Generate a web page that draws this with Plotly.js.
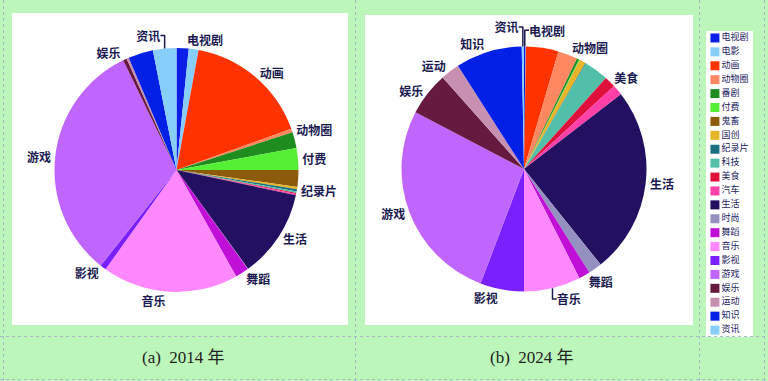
<!DOCTYPE html>
<html><head><meta charset="utf-8">
<script src="https://cdn.plot.ly/plotly-3.0.1.min.js"></script>
<style>html,body{margin:0;padding:0;background:#bcf6ba;}</style>
</head><body><div id="chart" style="width:768px;height:381px;"></div>
<script>
const categories = ['电视剧','电影','动画','动物圈','番剧','付费','鬼畜','国创','纪录片','科技','美食','汽车','生活','时尚','舞蹈','音乐','影视','游戏','娱乐','运动','知识','资讯'];
const values2014 = [1.6,1.3,16.6,0.5,2.1,2.9,2.2,0.3,0.3,0.2,0.15,0.15,11.7,0.05,1.8,18.0,0.8,32.1,0.5,0.3,3.3,3.1];
const values2024 = [0.2,0.05,4.3,2.6,0.3,0.1,0.05,0.8,0.1,3.2,1.5,1.4,24.8,1.8,1.5,7.5,5.8,27.0,5.8,2.5,8.8,0.3];
const colors = ['#0b1ee6','#87cefa','#ff3300','#ff8860','#1e8c1e','#55f035','#8b5a0a','#e8b428','#1a7080','#52c0a8','#e0103c','#ff40a8','#231060','#9490c0','#c010d8','#ff88ff','#7a20ff','#c066ff','#661a40','#c890b0','#0020e6','#87cefa'];
const shown2014 = ['电视剧','动画','动物圈','付费','纪录片','生活','舞蹈','音乐','影视','游戏','娱乐','资讯'];
const shown2024 = ['资讯','电视剧','动物圈','美食','生活','舞蹈','音乐','影视','游戏','娱乐','运动','知识'];
const captions = ['(a)  2014 年','(b)  2024 年'];

const W = 768, H = 381;
const px = x => x / W, py = y => 1 - y / H;
const labelFont = {family: 'Noto Sans CJK SC, sans-serif', size: 12, color: '#1a1a50'};

function pie(vals, shown, x0, x1, y0, y1) {
  return {
    type: 'pie', labels: categories, values: vals, sort: false, direction: 'clockwise', rotation: 0,
    marker: {colors: colors, line: {width: 0}},
    textposition: categories.map(c => shown.includes(c) ? 'outside' : 'none'),
    texttemplate: '<b>%{label}</b>', textfont: labelFont, outsidetextfont: labelFont,
    automargin: false, showlegend: false, hoverinfo: 'none',
    domain: {x: [px(x0), px(x1)], y: [py(y1), py(y0)]}
  };
}

const legendTrace = {
  type: 'scatter', mode: 'markers+text', xaxis: 'x', yaxis: 'y',
  x: categories.map(() => 0.19), y: categories.map((c, i) => i),
  text: categories, textposition: 'middle right',
  textfont: {family: 'Noto Sans CJK SC, sans-serif', size: 9, color: '#1a1a60'},
  marker: {symbol: 'square', size: 9, color: colors},
  showlegend: false, hoverinfo: 'none', cliponaxis: false
};

const dash = {color: '#a8b8cc', width: 1, dash: 'dot'};
const vline = x => ({type: 'line', xref: 'paper', yref: 'paper', x0: px(x), x1: px(x), y0: 0, y1: 1, line: dash, layer: 'below'});
const hline = y => ({type: 'line', xref: 'paper', yref: 'paper', x0: 0, x1: 1, y0: py(y), y1: py(y), line: dash, layer: 'below'});
const rect = (x0, y0, x1, y1) => ({type: 'rect', xref: 'paper', yref: 'paper', x0: px(x0), x1: px(x1), y0: py(y1), y1: py(y0), fillcolor: '#ffffff', line: {width: 0}, layer: 'below'});
const capFont = {family: 'Liberation Serif, Noto Sans CJK SC, serif', size: 17, color: '#222'};

const layout = {
  width: W, height: H, margin: {l: 0, r: 0, t: 0, b: 0},
  paper_bgcolor: '#bcf6ba', plot_bgcolor: '#ffffff',
  xaxis: {domain: [px(706), px(753)], range: [0, 1], visible: false, fixedrange: true},
  yaxis: {domain: [py(337), py(31)], range: [21.5, -0.5], visible: false, fixedrange: true},
  shapes: [rect(12, 13, 348, 325), rect(365, 15, 693, 325),
           vline(3.5), vline(355.5), vline(699.5), vline(764.5), hline(336.5), hline(379.5)],
  annotations: [
    {text: captions[0], xref: 'paper', yref: 'paper', x: px(183), y: py(357), xanchor: 'center', yanchor: 'middle', showarrow: false, font: capFont},
    {text: captions[1], xref: 'paper', yref: 'paper', x: px(531.5), y: py(357), xanchor: 'center', yanchor: 'middle', showarrow: false, font: capFont}
  ]
};

Plotly.newPlot('chart', [
  pie(values2014, shown2014, 54.5, 298.5, 48, 292),
  pie(values2024, shown2024, 401.5, 646.5, 46.5, 291.5),
  legendTrace
], layout, {displayModeBar: false, staticPlot: true});
</script></body></html>
